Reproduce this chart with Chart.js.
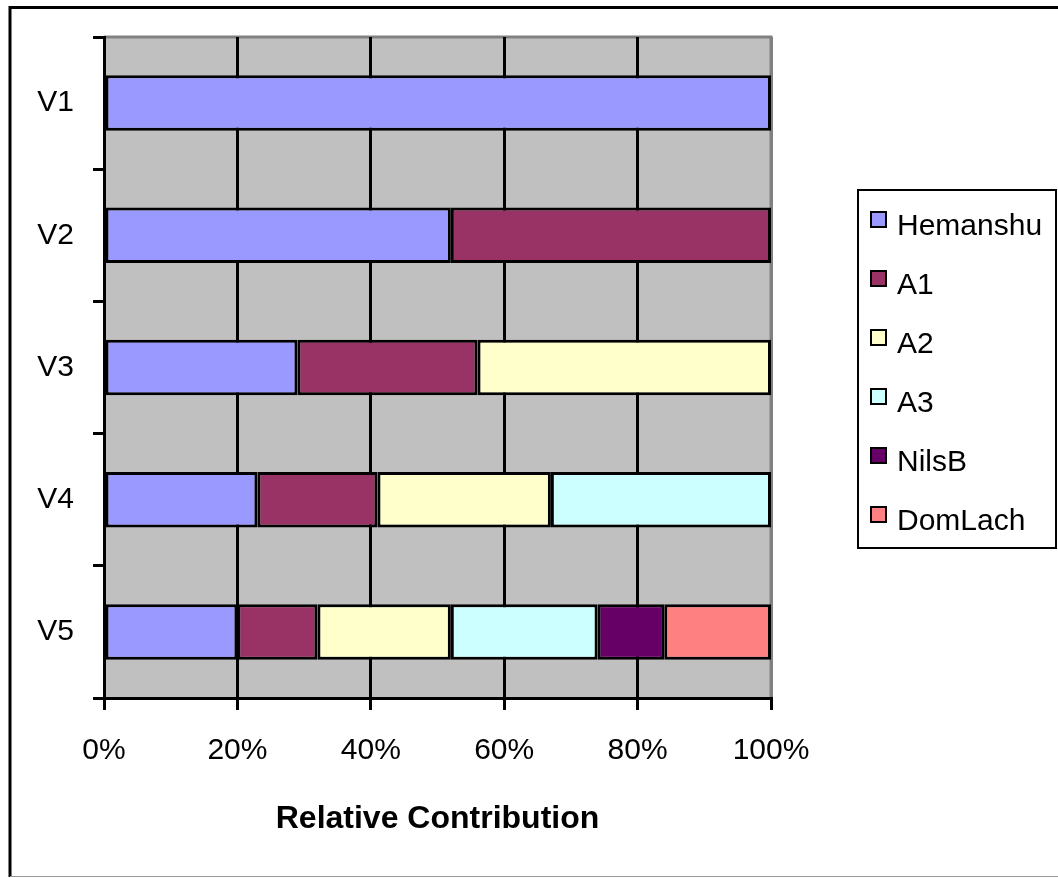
<!DOCTYPE html>
<html>
<head>
<meta charset="utf-8">
<script src="https://cdn.jsdelivr.net/npm/chart.js@4"></script>
<style>
  html, body { margin: 0; padding: 0; background: #fff; }
  #wrap { width: 1058px; height: 878px; position: relative; }
</style>
</head>
<body>
<div id="wrap"><canvas id="grafico"></canvas></div>
<script>
// categorias e series (percentuais)
const categorias = ['V1', 'V2', 'V3', 'V4', 'V5'];
const nomes = ['Hemanshu', 'A1', 'A2', 'A3', 'NilsB', 'DomLach'];
const hemanshu = [100, 52, 29, 23, 20];
const a1 = [null, 48, 27, 18, 12];
const a2 = [null, null, 44, 26, 20];
const a3 = [null, null, null, 33, 22];
const nilsB = [null, null, null, null, 10];
const domLach = [null, null, null, null, 16];
const ticksX = [0, 20, 40, 60, 80, 100];

const cores = ['#9999FF', '#993366', '#FFFFCC', '#CCFFFF', '#660066', '#FF8080'];
const series = [hemanshu, a1, a2, a3, nilsB, domLach];

const FONTE = "'Liberation Sans', Arial, sans-serif";

// fundo cinza, bordas e legenda desenhados a mao
const extras = {
    id: 'extras',
    beforeDraw(chart) {
        const { ctx, chartArea: a } = chart;
        ctx.save();
        ctx.fillStyle = '#fff';
        ctx.fillRect(0, 0, chart.width, chart.height);
        ctx.fillStyle = '#C0C0C0';
        ctx.fillRect(a.left, a.top, a.right - a.left, a.bottom - a.top);
        // borda de cima e da direita do plot
        ctx.strokeStyle = '#808080';
        ctx.lineWidth = 3;
        ctx.beginPath();
        ctx.moveTo(a.left, a.top);
        ctx.lineTo(a.right, a.top);
        ctx.lineTo(a.right, a.bottom);
        ctx.stroke();
        ctx.restore();
    },
    afterDraw(chart) {
        const { ctx } = chart;
        ctx.save();
        // moldura externa
        ctx.strokeStyle = '#000';
        ctx.lineWidth = 3;
        ctx.beginPath();
        ctx.moveTo(10, 877);
        ctx.lineTo(10, 7.5);
        ctx.lineTo(1060, 7.5);
        ctx.stroke();
        ctx.strokeStyle = '#999';
        ctx.lineWidth = 1;
        ctx.beginPath();
        ctx.moveTo(10, 876.5);
        ctx.lineTo(1058, 876.5);
        ctx.stroke();

        // legenda
        ctx.strokeStyle = '#000';
        ctx.lineWidth = 2;
        ctx.strokeRect(858, 190, 198, 358);
        ctx.font = '30px ' + FONTE;
        ctx.textBaseline = 'alphabetic';
        ctx.textAlign = 'left';
        chart.data.datasets.forEach((ds, i) => {
            const y = 212 + i * 59;
            ctx.fillStyle = ds.backgroundColor;
            ctx.fillRect(871, y, 15, 15);
            ctx.strokeStyle = '#000';
            ctx.lineWidth = 2;
            ctx.strokeRect(871, y, 15, 15);
            ctx.fillStyle = '#000';
            ctx.fillText(ds.label, 897, y + 23);
        });
        ctx.restore();
    }
};

const ctx = document.getElementById('grafico').getContext('2d');
const grafico = new Chart(ctx, {
    type: 'bar',
    data: {
        labels: categorias,
        datasets: nomes.map((n, i) => ({
            label: n,
            data: series[i],
            backgroundColor: cores[i],
            borderColor: '#000',
            borderWidth: 3,
            borderSkipped: false,
            barPercentage: 0.42,
            categoryPercentage: 1
        }))
    },
    options: {
        indexAxis: 'y',
        responsive: true,
        maintainAspectRatio: false,
        devicePixelRatio: 1,
        animation: false,
        layout: { padding: { left: 0, top: 37, right: 287, bottom: 0 } },
        plugins: {
            legend: { display: false },
            tooltip: { enabled: false }
        },
        scales: {
            x: {
                stacked: true,
                min: 0,
                max: 100,
                afterBuildTicks: (s) => { s.ticks = ticksX.map(v => ({ value: v })); },
                afterFit: (s) => { s.height = 180; },
                ticks: {
                    callback: (v) => v + '%',
                    font: { family: FONTE, size: 30 },
                    color: '#000',
                    padding: 23,
                    maxRotation: 0
                },
                grid: {
                    color: (c) => c.tick && c.tick.value === 100 ? '#808080' : '#000',
                    lineWidth: 3,
                    tickLength: 12,
                    tickColor: '#000'
                },
                border: { color: '#000', width: 3 },
                title: {
                    display: true,
                    text: 'Relative Contribution',
                    font: { family: FONTE, size: 32, weight: 'bold' },
                    color: '#000',
                    padding: { top: 0, bottom: 40 }
                }
            },
            y: {
                stacked: true,
                afterFit: (s) => { s.width = 104; },
                ticks: {
                    font: { family: FONTE, size: 30 },
                    color: '#000',
                    padding: 19
                },
                grid: {
                    offset: true,
                    drawOnChartArea: false,
                    tickLength: 11,
                    lineWidth: 3,
                    color: '#000'
                },
                border: { color: '#000', width: 3 }
            }
        }
    },
    plugins: [extras]
});
</script>
</body>
</html>
